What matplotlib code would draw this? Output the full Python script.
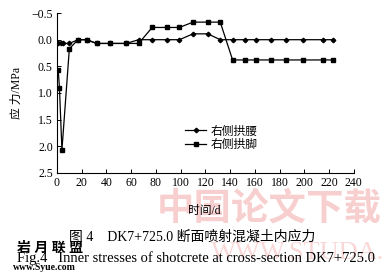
import matplotlib
matplotlib.use("Agg")
import matplotlib.pyplot as plt

plt.rcParams['font.family'] = ['Liberation Serif', 'Noto Sans CJK SC']
plt.rcParams['axes.unicode_minus'] = True

# Data
days_waist = [1, 3, 5, 10, 17, 24, 32, 43, 56, 66, 77, 89, 99, 110, 122, 132,
              142, 152, 161, 173, 185, 199, 215, 223]
stress_waist = [0.07, 0.07, 0.07, 0.07, 0.0, 0.0, 0.07, 0.07, 0.07, 0.0, 0.0, 0.0,
                0.0, -0.11, -0.11, 0.0, 0.0, 0.0, 0.0, 0.0, 0.0, 0.0, 0.0, 0.0]
days_foot = [1, 2, 4, 10, 17, 24, 32, 43, 56, 66, 77, 89, 99, 110, 122, 132,
             142, 152, 161, 173, 185, 199, 215, 223]
stress_foot = [0.57, 0.9, 2.07, 0.17, 0.0, 0.0, 0.07, 0.07, 0.07, 0.07, -0.23, -0.23,
               -0.23, -0.33, -0.33, -0.33, 0.38, 0.38, 0.38, 0.38, 0.38, 0.38, 0.38, 0.38]
label_waist = '右侧拱腰'
label_foot = '右侧拱脚'
xticks = list(range(0, 241, 20))
yticks = [-0.5, 0.0, 0.5, 1.0, 1.5, 2.0, 2.5]

fig = plt.figure(figsize=(3.85, 2.78), dpi=100)

# Watermarks (behind everything)
fig.text(0.70, 0.245, '中国论文下载', fontsize=27, color='#f4a8a8', alpha=0.55,
         ha='center', va='center', fontweight='bold', zorder=0)
fig.text(0.998, 0.09, 'WWW.STUDA.', fontsize=19, color='#f4a8a8', alpha=0.45,
         ha='right', va='center', zorder=0)

ax = fig.add_axes([0.148, 0.378, 0.771, 0.575])
ax.patch.set_alpha(0)

ax.plot(days_waist, stress_waist, color='black', lw=0.9, marker='D', ms=2.3,
        label=label_waist)
ax.plot(days_foot, stress_foot, color='black', lw=0.9, marker='s', ms=3.5,
        label=label_foot)

ax.set_xlim(0, 240)
ax.set_ylim(2.5, -0.5)
ax.set_xticks(xticks)
ax.set_yticks(yticks)
ax.set_yticklabels(['%.1f' % v if v >= 0 else '−0.5' for v in yticks])
ax.tick_params(direction='in', length=3, width=0.7, labelsize=8.5, pad=3)
for s in ['top', 'right']:
    ax.spines[s].set_visible(False)
for s in ['left', 'bottom']:
    ax.spines[s].set_linewidth(0.8)

ax.set_ylabel('应 力/MPa', fontsize=8.5, labelpad=6)
fig.text(0.53, 0.241, '时间/d', fontsize=8.5, ha='center', va='center')

leg = ax.legend(loc='upper left', bbox_to_anchor=(0.465, 0.57),
                bbox_transform=fig.transFigure, frameon=False,
                fontsize=8.5, handlelength=1.8, handletextpad=0.4,
                labelspacing=0.15, borderpad=0.0)

fig.text(0.50, 0.147, '图 4　DK7+725.0 断面喷射混凝土内应力', fontsize=10,
         ha='center', va='center')
fig.text(0.51, 0.072, 'Fig.4   Inner stresses of shotcrete at cross-section DK7+725.0',
         fontsize=10.5, ha='center', va='center')
fig.text(0.045, 0.108, '岩 月 联 盟', fontsize=10, color='black', ha='left',
         va='center', fontweight='bold')
fig.text(0.033, 0.036, 'www.Syue.com', fontsize=7, color='black', ha='left',
         va='center', fontweight='bold')

fig.savefig('out.png', dpi=100)
